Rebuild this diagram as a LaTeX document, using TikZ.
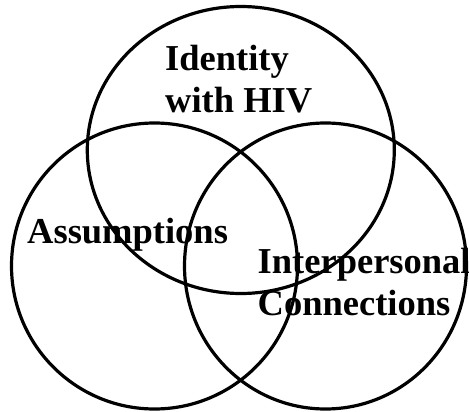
\documentclass[tikz,border=0pt]{standalone}
\usepackage{fontspec}
\setmainfont{Liberation Serif}
\begin{document}
\begin{tikzpicture}[x=1pt,y=-1pt,
  ring/.style={draw=black,line width=3.2pt},
  lbl/.style={inner sep=0pt,anchor=base west,align=left,font=\bfseries\fontsize{36.5}{41.5}\selectfont}]
\useasboundingbox (0,0) rectangle (469,412);
\draw[ring] (240.8,150) ellipse [x radius=153.5,y radius=143.5];
\draw[ring] (154.5,266) ellipse [x radius=143,y radius=143];
\draw[ring] (325.5,266) ellipse [x radius=141,y radius=143];
\node[lbl] (identity) at (165,112.5) {Identity\\with HIV};
\node[lbl] (assump) at (27,243) {Assumptions};
\node[lbl] (inter) at (257.5,315) {Interpersonal\\Connections};
\end{tikzpicture}
\end{document}
